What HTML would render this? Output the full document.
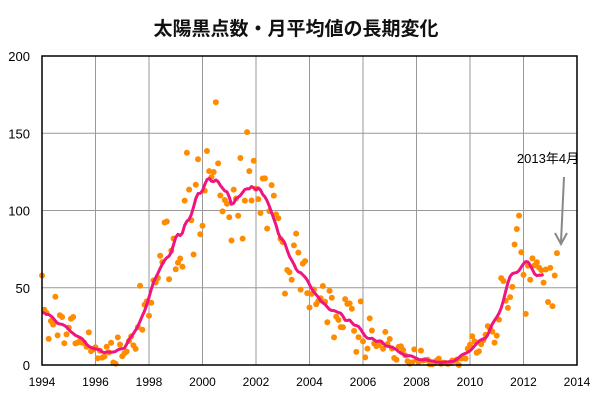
<!DOCTYPE html>
<html><head><meta charset="utf-8"><style>
body{margin:0;background:#fff;}
svg text{font-family:"Liberation Sans","Noto Sans CJK JP",sans-serif;}
</style></head><body>
<svg id="chart" width="600" height="400">
<text x="296" y="35" text-anchor="middle" font-size="19" font-weight="bold" fill="#111">太陽黒点数・月平均値の長期変化</text>
<g id="grid"></g>
<g id="points"></g>
<g id="line"></g>
<rect x="42" y="56" width="535" height="309" fill="none" stroke="#000" stroke-width="1.5"/>
<text x="548" y="163" text-anchor="middle" font-size="13" fill="#000">2013年4月</text>
<line x1="564" y1="177" x2="561" y2="242" stroke="#888" stroke-width="2"/>
<polyline points="555,233 561,244 567,233" fill="none" stroke="#888" stroke-width="2"/>
</svg>
<script>
const yearTicks=[1994,1996,1998,2000,2002,2004,2006,2008,2010,2012,2014];
const valueTicks=[0,50,100,150,200];
const startYear=1994;
const monthly=[
57.9,35.8,33.8,16.9,28.5,26.1,44.2,19.2,32.2,31.1,14.1,19.8,
24.2,29.9,31.1,14.0,14.5,15.6,14.5,14.3,11.8,21.1,9.0,10.0,
11.5,4.4,9.2,4.8,5.5,11.8,8.2,14.4,1.6,0.9,17.9,13.3,
5.7,7.6,8.7,15.5,18.5,12.7,10.4,24.4,51.3,22.8,39.0,41.2,
31.9,40.3,54.8,53.4,56.3,70.7,66.6,92.2,92.9,55.5,74.0,81.9,
62.0,66.3,68.9,63.6,106.4,137.4,113.5,93.7,71.5,116.7,133.2,84.6,
90.1,112.9,138.5,125.5,121.6,124.9,170.1,130.5,109.7,99.4,106.8,104.4,
95.6,80.6,113.5,107.7,96.6,134.0,81.8,106.4,150.7,125.5,106.5,132.2,
114.1,107.4,98.4,120.7,120.8,88.3,99.6,116.4,109.6,97.5,95.0,81.6,
79.5,46.2,61.5,60.0,55.2,77.4,85.0,72.7,48.8,65.6,67.2,46.5,
37.2,46.0,48.9,39.3,41.5,43.2,51.1,40.9,27.7,48.0,43.5,17.9,
31.3,29.2,24.5,24.4,42.6,39.6,39.9,36.4,22.1,8.5,18.0,41.2,
15.3,4.9,10.6,30.2,22.3,13.9,12.2,12.9,14.4,10.5,21.4,13.6,
16.8,10.7,4.5,3.4,11.7,12.1,9.7,6.2,2.4,0.9,1.7,10.1,
3.3,2.1,9.3,2.9,3.2,3.4,0.5,0.5,1.1,2.9,4.1,0.8,
1.5,1.4,0.7,1.2,2.9,2.6,3.5,0.0,4.2,4.6,4.2,10.6,
13.1,18.6,15.4,7.9,8.8,13.5,16.1,19.6,25.2,23.5,21.6,14.5,
19.0,29.4,56.2,54.4,41.6,37.0,43.9,50.6,78.0,88.0,96.7,73.0,
58.3,33.1,64.2,55.2,69.0,64.5,66.5,63.0,61.4,53.3,61.8,40.8,
62.9,38.1,57.9,72.4];
const L=42,R=577,T=56,B=365;
const xs=t=>L+(t-1994)/20*(R-L);
const ys=v=>B-v/200*(B-T);
const NS="http://www.w3.org/2000/svg";
function mk(tag,attrs,parent){const e=document.createElementNS(NS,tag);for(const k in attrs)e.setAttribute(k,attrs[k]);parent.appendChild(e);return e;}
const grid=document.getElementById('grid'),svg=document.getElementById('chart');
yearTicks.forEach(y=>{
  if(y>1994&&y<2014){const l=mk('line',{x1:xs(y),x2:xs(y),y1:T,y2:B,stroke:'#999','stroke-width':1},grid);
  
  }
  const t=mk('text',{x:xs(y),y:386,'text-anchor':'middle','font-size':12,fill:'#000'},svg);t.textContent=y;
  
  
});
valueTicks.forEach(v=>{
  if(v>0&&v<200){const l=mk('line',{x1:L,x2:R,y1:ys(v),y2:ys(v),stroke:'#999','stroke-width':1},grid);
  
  }
  const t=mk('text',{x:30,y:ys(v)+5,'text-anchor':'end','font-size':13,fill:'#000'},svg);t.textContent=v;
  
  
});
const pts=document.getElementById('points');
monthly.forEach((v,i)=>{const c=mk('circle',{cx:xs(startYear+i/12),cy:ys(v),r:3,fill:'#ff8c00'},pts);
  
  });
// 13-month running mean
const sm=[];
for(let i=0;i<=monthly.length-7;i++){let s=0,w=0;for(let k=-6;k<=6;k++){const j=i+k;if(j<0||j>=monthly.length)continue;const wt=(Math.abs(k)===6)?0.5:1;s+=monthly[j]*wt;w+=wt;}sm.push([xs(startYear+i/12),ys(s/w)]);}
const pl=mk('polyline',{points:sm.map(p=>p.join(',')).join(' '),fill:'none',stroke:'#f0147e','stroke-width':3,'stroke-linejoin':'round'},document.getElementById('line'));


</script>
</body></html>
